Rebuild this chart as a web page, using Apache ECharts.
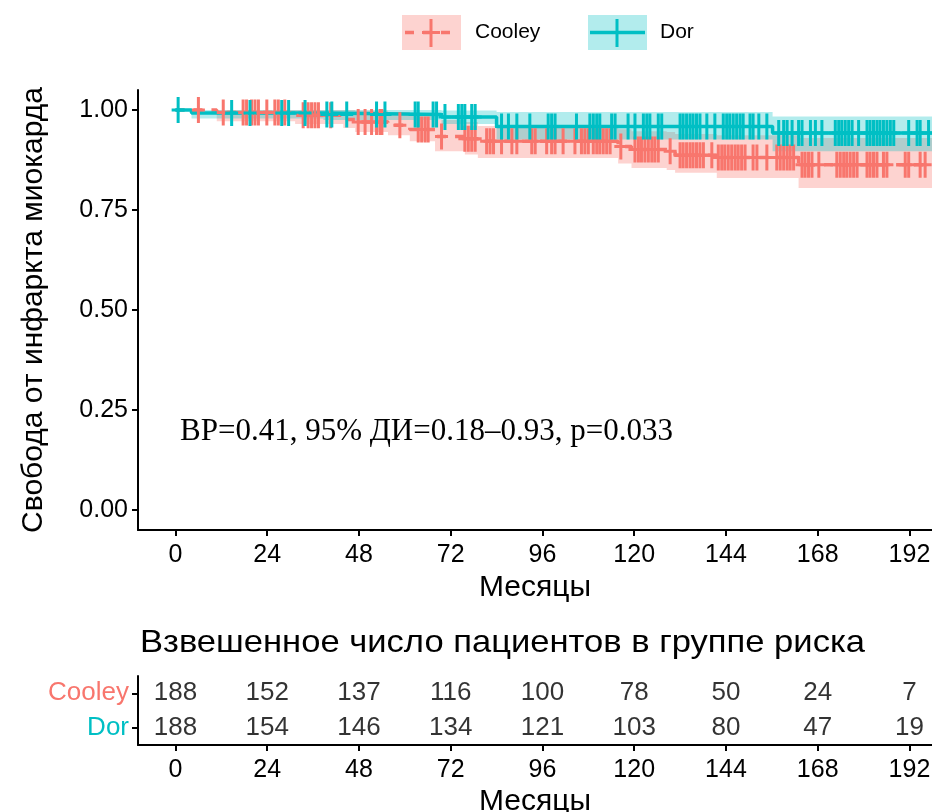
<!DOCTYPE html>
<html>
<head>
<meta charset="utf-8">
<script src="https://cdn.jsdelivr.net/npm/echarts@6/dist/echarts.min.js"></script>
<style>
  html, body { margin: 0; padding: 0; background: #fff; }
  #chart { width: 932px; height: 812px; }
</style>
</head>
<body>
<div id="chart"></div>
<script>
// ---------- data ----------
const groups = ['Cooley', 'Dor'];
const monthTicks = [0, 24, 48, 72, 96, 120, 144, 168, 192];
const survTicks = [0, 0.25, 0.5, 0.75, 1];

// Cooley: Kaplan–Meier step values with 95% confidence limits
const cooleyTimes = [0, 10.8, 31.3, 43.9, 47.0, 55.6, 61.3, 67.9, 75.7, 79.1, 115.8, 119.3, 128.5, 130.7, 141.6, 163.0];
const cooleySurv  = [1, 0.994, 0.987, 0.976, 0.970, 0.962, 0.951, 0.934, 0.928, 0.922, 0.909, 0.901, 0.897, 0.887, 0.881, 0.863];
const cooleyUpper = [1, 1, 1, 1, 0.998, 0.995, 0.987, 0.975, 0.970, 0.960, 0.952, 0.947, 0.945, 0.940, 0.937, 0.930];
const cooleyLower = [1, 0.972, 0.965, 0.955, 0.945, 0.937, 0.922, 0.897, 0.889, 0.880, 0.866, 0.855, 0.850, 0.843, 0.830, 0.805];
const cooleyCensored = [6.0, 12.5, 17.7, 18.6, 19.9, 20.8, 21.7, 23.9, 26.0, 26.9, 28.6, 33.4, 34.7, 35.6, 36.5, 37.4, 40.6, 47.8, 49.6,
  51.3, 52.6, 53.5, 54.0, 58.7, 63.5, 64.4, 65.3, 66.1, 69.6, 75.7, 76.6, 77.5, 78.4, 81.4, 82.3, 83.2, 85.3, 88.0, 89.3, 93.2, 94.1, 97.1, 98.4, 99.3,
  101.4, 104.5, 106.2, 107.1, 108.0, 109.3, 110.2, 111.0, 111.9, 112.8, 113.7, 116.5, 120.2, 121.1, 121.9, 122.8, 123.7, 124.6, 125.4, 126.3,
  129.4, 132.0, 132.8, 133.7, 134.6, 135.4, 136.3, 137.2, 138.1, 140.3, 142.0, 142.9, 143.7, 144.6, 145.5, 146.4, 147.2, 148.1, 149.0, 151.1,
  152.1, 154.7, 157.3, 158.2, 159.1, 160.0, 160.8, 161.7, 163.9, 164.7, 165.6, 166.5, 168.3, 173.0, 173.9, 174.8, 175.6, 176.5, 177.4, 178.3,
  180.9, 181.7, 182.6, 183.5, 185.2, 186.1, 190.9, 191.8, 194.8, 196.1];

// Dor: Kaplan–Meier step values with 95% confidence limits
const dorTimes = [0, 4.2, 38.7, 69.6, 84.0, 156.2];
const dorSurv  = [1, 0.9925, 0.989, 0.9825, 0.959, 0.9425];
const dorUpper = [1, 1, 1, 0.999, 0.995, 0.984];
const dorLower = [1, 0.979, 0.975, 0.965, 0.926, 0.897];
const dorCensored = [0.7, 14.7, 19.5, 27.8, 29.6, 33.9, 39.6, 40.9, 44.8,
  52.6, 54.8, 62.7, 63.5, 67.4, 68.3, 70.5, 74.0, 74.9, 75.7, 77.5, 78.4, 85.3, 87.1, 89.3, 92.7, 97.5, 98.4, 99.3,
  104.9, 108.4, 109.3, 110.2, 111.0, 114.1, 115.0, 118.4, 120.2, 122.4, 123.3, 124.1, 126.3, 127.2, 132.0, 132.8, 133.7, 134.6,
  135.4, 136.3, 137.2, 139.0, 141.1, 143.3, 144.2, 145.0, 145.9, 146.8, 147.7, 148.5, 150.3, 151.1,
  152.6, 154.7, 157.8, 159.1, 160.0, 161.3, 163.0, 163.9, 166.1, 167.4, 169.1, 172.6, 173.5, 174.3, 175.2, 176.1, 177.0, 178.7,
  180.9, 181.7, 182.6, 183.5, 184.3, 185.2, 186.1, 187.0, 187.9, 191.8, 194.0, 194.8, 197.0];

const followUpEnd = 198;

// Weighted number at risk at each month tick
const riskCooley = [188, 152, 137, 116, 100, 78, 50, 24, 7];
const riskDor    = [188, 154, 146, 134, 121, 103, 80, 47, 19];

const hrText = 'ВР=0.41, 95% ДИ=0.18–0.93, p=0.033';

// ---------- helpers ----------
const RED = '#F8766D', TEAL = '#00BFC4';
const RED_BAND = 'rgba(248,118,109,0.32)', TEAL_BAND = 'rgba(0,191,196,0.30)';
const FONT = '"Liberation Sans", Arial, sans-serif';
const X_MIN = -9.8, X_MAX = 197.9;

function stepPoints(times, vals) {
  const pts = times.map((t, i) => [t, vals[i]]);
  pts.push([followUpEnd, vals[vals.length - 1]]);
  return pts;
}
function survAt(times, vals, t) {
  let v = vals[0];
  for (let i = 0; i < times.length; i++) if (times[i] <= t) v = vals[i];
  return v;
}
function bandSeries(times, upper, lower, color) {
  return {
    type: 'custom', xAxisIndex: 0, yAxisIndex: 0, clip: true, silent: true, z: 1,
    data: [[0, 1]],
    renderItem: function (params, api) {
      const pts = [];
      const ends = times.slice(1).concat([followUpEnd]);
      for (let i = 0; i < times.length; i++) {
        pts.push(api.coord([times[i], upper[i]]));
        pts.push(api.coord([ends[i], upper[i]]));
      }
      for (let i = times.length - 1; i >= 0; i--) {
        pts.push(api.coord([ends[i], lower[i]]));
        pts.push(api.coord([times[i], lower[i]]));
      }
      return { type: 'polygon', shape: { points: pts }, style: { fill: color } };
    }
  };
}
const PLUS = 'path://M5,0h3v26h-3zM0,11.5h13v3h-13z';
function censorSeries(censored, times, vals, color, z) {
  return {
    type: 'scatter', xAxisIndex: 0, yAxisIndex: 0, z: z, silent: true,
    symbol: PLUS, symbolSize: [13, 26],
    itemStyle: { color: color, opacity: 1 },
    data: censored.map(t => [t, survAt(times, vals, t)])
  };
}
function riskSeries(name, counts) {
  return {
    type: 'scatter', xAxisIndex: 1, yAxisIndex: 1, silent: true,
    symbolSize: 1, itemStyle: { color: 'rgba(0,0,0,0)' },
    label: { show: true, position: 'inside', formatter: p => String(p.value[2]),
             fontSize: 26, color: '#000', fontFamily: FONT },
    data: monthTicks.map((m, i) => [m, name, counts[i]])
  };
}

function monthAxis(gridIndex) {
  return {
    type: 'value', gridIndex: gridIndex, min: X_MIN, max: X_MAX,
    axisLine: { show: true, onZero: false, lineStyle: { color: '#000', width: 2 } },
    axisTick: { show: true, customValues: monthTicks, length: 6, lineStyle: { color: '#000', width: 2 } },
    axisLabel: { customValues: monthTicks, fontSize: 25, color: '#000', margin: 13, fontFamily: FONT },
    splitLine: { show: false },
    name: 'Месяцы', nameLocation: 'middle', nameGap: 42,
    nameTextStyle: { fontSize: 30, color: '#000', fontFamily: FONT }
  };
}

// ---------- chart ----------
const chart = echarts.init(document.getElementById('chart'), null, { renderer: 'canvas' });
chart.setOption({
  animation: false,
  backgroundColor: '#fff',
  textStyle: { fontFamily: FONT },
  grid: [
    { left: 138, top: 90, width: 794, height: 440, outerBoundsMode: 'none' },
    { left: 138, top: 676, width: 794, height: 69, outerBoundsMode: 'none' }
  ],
  xAxis: [monthAxis(0), monthAxis(1)],
  yAxis: [
    {
      type: 'value', gridIndex: 0, min: -0.05, max: 1.05,
      axisLine: { show: true, onZero: false, lineStyle: { color: '#000', width: 2 } },
      axisTick: { show: true, customValues: survTicks, length: 6, lineStyle: { color: '#000', width: 2 } },
      axisLabel: { customValues: survTicks, formatter: v => v.toFixed(2), fontSize: 25, color: '#000', margin: 10, fontFamily: FONT },
      splitLine: { show: false },
      name: 'Свобода от инфаркта миокарда', nameLocation: 'middle', nameRotate: 90, nameGap: 89,
      nameTextStyle: { fontSize: 30, color: '#000', fontFamily: FONT }
    },
    {
      type: 'category', gridIndex: 1, data: groups, inverse: true,
      axisLine: { show: true, onZero: false, lineStyle: { color: '#000', width: 2 } },
      axisTick: { show: true, interval: 0, alignWithLabel: true, length: 6, lineStyle: { color: '#000', width: 2 } },
      axisLabel: { interval: 0, fontSize: 26, margin: 9, fontFamily: FONT,
                   color: v => (v === 'Cooley' ? RED : TEAL) },
      splitLine: { show: false }
    }
  ],
  series: [
    bandSeries(cooleyTimes, cooleyUpper, cooleyLower, RED_BAND),
    bandSeries(dorTimes, dorUpper, dorLower, TEAL_BAND),
    {
      type: 'line', xAxisIndex: 0, yAxisIndex: 0, step: 'end', symbol: 'none', z: 3, silent: true,
      lineStyle: { color: RED, width: 3.5, type: [9, 9] },
      data: stepPoints(cooleyTimes, cooleySurv)
    },
    {
      type: 'line', xAxisIndex: 0, yAxisIndex: 0, step: 'end', symbol: 'none', z: 4, silent: true,
      lineStyle: { color: TEAL, width: 3.5 },
      data: stepPoints(dorTimes, dorSurv)
    },
    censorSeries(cooleyCensored, cooleyTimes, cooleySurv, RED, 5),
    censorSeries(dorCensored, dorTimes, dorSurv, TEAL, 6),
    riskSeries('Cooley', riskCooley),
    riskSeries('Dor', riskDor)
  ],
  graphic: [
    // legend: Cooley
    { type: 'rect', shape: { x: 402, y: 15, width: 59, height: 35 }, style: { fill: RED_BAND } },
    { type: 'line', shape: { x1: 405, y1: 32.5, x2: 458, y2: 32.5 }, style: { stroke: RED, lineWidth: 3.5, lineDash: [9, 9] } },
    { type: 'line', shape: { x1: 422, y1: 32.5, x2: 440, y2: 32.5 }, style: { stroke: RED, lineWidth: 3 } },
    { type: 'line', shape: { x1: 431, y1: 19, x2: 431, y2: 47 }, style: { stroke: RED, lineWidth: 3 } },
    { type: 'text', x: 475, y: 32.5, style: { text: 'Cooley', fill: '#000', font: '21px ' + FONT, textVerticalAlign: 'middle' } },
    // legend: Dor
    { type: 'rect', shape: { x: 588, y: 15, width: 59, height: 35 }, style: { fill: TEAL_BAND } },
    { type: 'line', shape: { x1: 590, y1: 32.5, x2: 645, y2: 32.5 }, style: { stroke: TEAL, lineWidth: 3.5 } },
    { type: 'line', shape: { x1: 617, y1: 19, x2: 617, y2: 47 }, style: { stroke: TEAL, lineWidth: 3 } },
    { type: 'text', x: 660, y: 32.5, style: { text: 'Dor', fill: '#000', font: '21px ' + FONT, textVerticalAlign: 'middle' } },
    // hazard ratio annotation
    { type: 'text', x: 180, y: 432, style: { text: hrText, fill: '#000', font: '31px "Liberation Serif", "Times New Roman", serif', textVerticalAlign: 'middle' } },
    // risk table title
    { type: 'text', x: 140, y: 643, scaleX: 1.08, style: { text: 'Взвешенное число пациентов в группе риска', fill: '#000', font: '32px ' + FONT, textVerticalAlign: 'middle' } }
  ]
});
</script>
</body>
</html>
